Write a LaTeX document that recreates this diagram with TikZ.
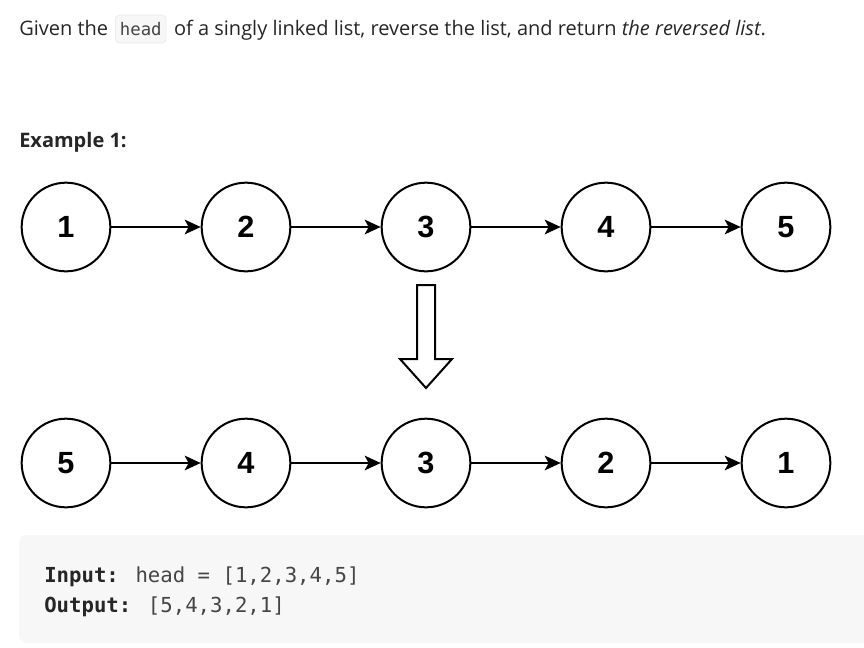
\documentclass[tikz,border=0pt]{standalone}
\usepackage{fontspec}
\setmainfont{Open Sans}
\newfontfamily\codefont{DejaVu Sans Mono}
\newfontfamily\digitfont{Liberation Sans}
\usetikzlibrary{positioning,arrows.meta}
\definecolor{textgray}{HTML}{262626}
\definecolor{codebg}{HTML}{F7F7F7}
\definecolor{codeborder}{HTML}{E6E6E6}
\definecolor{codegray}{HTML}{454545}
\tikzset{
  listnode/.style={circle, draw, line width=1.5pt, minimum size=66.5pt, inner sep=0pt,
    font=\digitfont\bfseries\fontsize{23}{23}\selectfont},
  link/.style={line width=1.5pt, -{Stealth[length=12pt,width=11pt,inset=3pt]}},
  prose/.style={inner sep=0pt, text=textgray, font=\fontsize{15}{18}\selectfont},
  codebox/.style={fill=codebg, draw=codeborder, rounded corners=3pt, inner xsep=3.4pt, inner ysep=0pt,
    text height=15pt, text depth=6pt, text=codegray, font=\codefont\fontsize{13}{15}\selectfont},
  codeline/.style={inner sep=0pt, anchor=base west, text=codegray, font=\codefont\fontsize{15.5}{18}\selectfont},
}
\begin{document}
\begin{tikzpicture}[x=0.75pt, y=-0.75pt]
  \useasboundingbox (0,0) rectangle (864,647);
  % problem text
  \node[prose, anchor=base west] (given) at (19,35) {Given the};
  \node[codebox, right=5pt of given.base east, anchor=base west] (headcode) {head};
  \node[prose, right=5.5pt of headcode.base east, anchor=base west] (rest)
    {of a singly linked list, reverse the list, and return \textit{the reversed list}.};
  \node[prose, anchor=base west, font=\bfseries\fontsize{15}{18}\selectfont] (example) at (19,147) {Example 1:};
  % input list
  \foreach \v [count=\i] in {1,2,3,4,5}
    \node[listnode] (t\i) at ({66+180*(\i-1)},227) {\v};
  % reversed list
  \foreach \v [count=\i] in {5,4,3,2,1}
    \node[listnode] (b\i) at ({66+180*(\i-1)},463) {\v};
  \foreach \i/\j in {1/2,2/3,3/4,4/5} {
    \draw[link] (t\i) -- (t\j);
    \draw[link] (b\i) -- (b\j);
  }
  % hollow down arrow
  \draw[line width=1.5pt, line join=miter] (417,285) -- (435,285) -- (435,359) -- (452,359)
    -- (426,388) -- (400,359) -- (417,359) -- cycle;
  % code block
  \begin{scope}
    \clip (0,0) rectangle (864,647);
    \fill[codebg, rounded corners=6pt] (19,535) rectangle (900,643);
  \end{scope}
  \node[codeline] (input) at (44,582) {\textcolor{textgray}{\bfseries Input:} head = [1,2,3,4,5]};
  \node[codeline] (output) at (44,612) {\textcolor{textgray}{\bfseries Output:} [5,4,3,2,1]};
\end{tikzpicture}
\end{document}
